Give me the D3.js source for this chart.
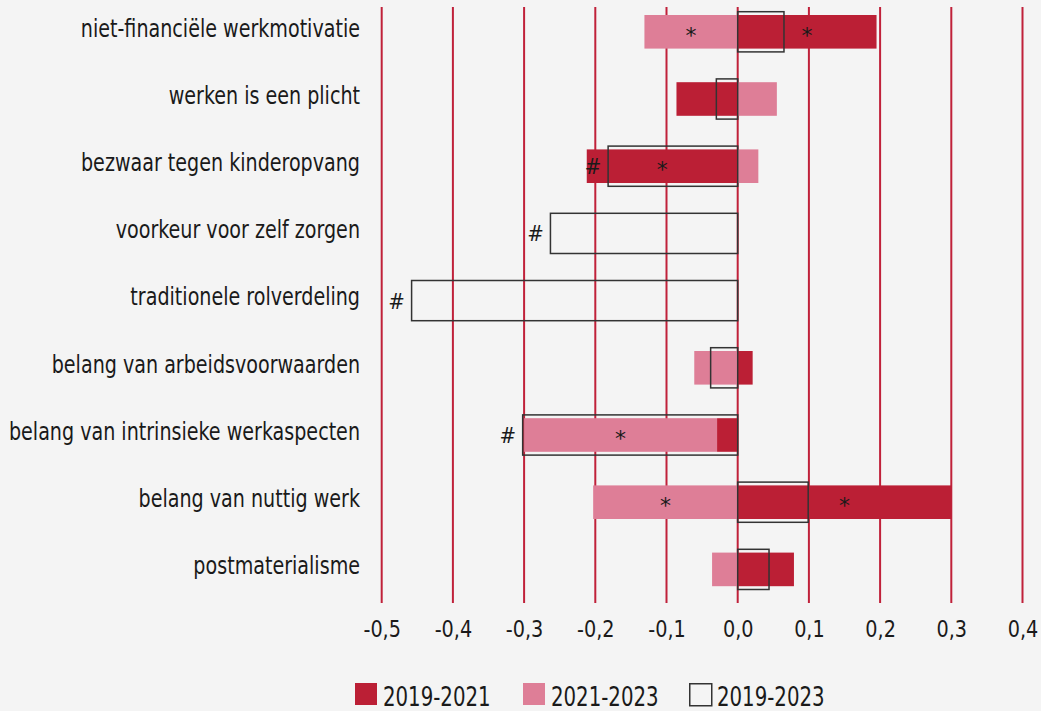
<!DOCTYPE html>
<html>
<head>
<meta charset="utf-8">
<script src="https://cdn.jsdelivr.net/npm/d3@7"></script>
<style>
  html, body { margin: 0; padding: 0; background: #f4f4f4; }
  svg { display: block; }
  text { font-family: "DejaVu Sans Condensed", "Open Sans", sans-serif; fill: #1a1a1a; }
</style>
</head>
<body>
<svg id="chart" width="1041" height="711"></svg>
<script>
const categories = [
  "niet-financiële werkmotivatie",
  "werken is een plicht",
  "bezwaar tegen kinderopvang",
  "voorkeur voor zelf zorgen",
  "traditionele rolverdeling",
  "belang van arbeidsvoorwaarden",
  "belang van intrinsieke werkaspecten",
  "belang van nuttig werk",
  "postmaterialisme"
];
const series = ["2019-2021", "2021-2023", "2019-2023"];
const values2019_2021 = [0.195, -0.086, -0.212, 0, 0, 0.021, -0.029, 0.300, 0.079];
const values2021_2023 = [-0.131, 0.055, 0.029, 0, 0, -0.061, -0.271, -0.203, -0.036];
const values2019_2023 = [0.065, -0.030, -0.182, -0.263, -0.458, -0.038, -0.302, 0.099, 0.044];
const sig2019_2021 = [true, false, true, false, false, false, false, true, false];
const sig2021_2023 = [true, false, false, false, false, false, true, true, false];
const sig2019_2023 = [false, false, true, true, true, false, true, false, false];
const tickValues = [-0.5, -0.4, -0.3, -0.2, -0.1, 0, 0.1, 0.2, 0.3, 0.4];

const colors = { "2019-2021": "#bb1f35", "2021-2023": "#de7e97", grid: "#c0213a", outline: "#333333" };

const svg = d3.select("#chart");
const x = d3.scaleLinear().domain([-0.5, 0.4]).range([381.7, 1022.5]);
const y = d3.scaleBand().domain(categories).range([-1.8, 603]).paddingInner(0.5).paddingOuter(0.25);

// gridlines
svg.append("g").selectAll("line").data(tickValues).join("line")
  .attr("x1", d => x(d)).attr("x2", d => x(d))
  .attr("y1", 7).attr("y2", 603)
  .attr("stroke", colors.grid).attr("stroke-width", 2);

// stacked bars (diverging)
const rows = categories.map((c, i) => ({ cat: c, "2019-2021": values2019_2021[i], "2021-2023": values2021_2023[i], i }));
const stack = d3.stack().keys(["2019-2021", "2021-2023"]).offset(d3.stackOffsetDiverging);
const stacked = stack(rows);
const sigMap = { "2019-2021": sig2019_2021, "2021-2023": sig2021_2023 };

const layers = svg.append("g").selectAll("g").data(stacked).join("g")
  .attr("fill", s => colors[s.key]);
layers.selectAll("rect").data(s => s.map(d => ({ d, key: s.key }))).join("rect")
  .attr("x", o => x(Math.min(o.d[0], o.d[1])))
  .attr("width", o => Math.abs(x(o.d[1]) - x(o.d[0])))
  .attr("y", o => y(o.d.data.cat))
  .attr("height", y.bandwidth());

// stars
const fsStar = 22;
stacked.forEach(s => {
  svg.append("g").selectAll("text").data(s.filter(d => sigMap[s.key][d.data.i])).join("text")
    .attr("x", d => x((d[0] + d[1]) / 2))
    .attr("y", d => y(d.data.cat) + y.bandwidth() / 2 + fsStar * 0.5)
    .attr("text-anchor", "middle")
    .style("font-family", "'DejaVu Sans', sans-serif")
    .style("font-size", fsStar + "px")
    .text("*");
});

// outline boxes 2019-2023
const outlineRows = categories.map((c, i) => ({ cat: c, v: values2019_2023[i], sig: sig2019_2023[i] }));
svg.append("g").selectAll("rect").data(outlineRows).join("rect")
  .attr("x", d => x(Math.min(0, d.v)))
  .attr("width", d => Math.abs(x(d.v) - x(0)))
  .attr("y", d => y(d.cat) - 3.3)
  .attr("height", y.bandwidth() + 6.6)
  .attr("fill", "none")
  .attr("stroke", colors.outline)
  .attr("stroke-width", 1.5);

svg.append("g").selectAll("text").data(outlineRows.filter(d => d.sig)).join("text")
  .attr("x", d => x(Math.min(0, d.v)) - 15)
  .attr("y", d => y(d.cat) + y.bandwidth() / 2 + 8)
  .attr("text-anchor", "middle")
  .style("font-size", "22px")
  .text("#");

// category labels (condensed horizontally to mimic the narrow original font)
const yAxis = d3.axisLeft(y).tickSize(0).tickPadding(0);
const ya = svg.append("g").attr("transform", "translate(360,0)").call(yAxis);
ya.select(".domain").remove();
ya.selectAll("text").style("font-size", "24px").attr("dy", "0.2em")
  .attr("transform", "scale(0.885,1)")
  .attr("font-family", null);

// x axis tick labels
const xAxis = d3.axisBottom(x).tickValues(tickValues).tickSize(0).tickPadding(0)
  .tickFormat(d => d3.format(".1f")(d).replace(".", ",").replace("−", "-"));
const xa = svg.append("g").attr("transform", "translate(0,637)").call(xAxis);
xa.select(".domain").remove();
xa.selectAll("text").attr("dy", 0).style("font-size", "23px").attr("font-family", null)
  .attr("transform", "scale(0.93,1)");

// legend
const legendItems = [
  { label: "2019-2021", x: 355, fill: colors["2019-2021"], stroke: "none" },
  { label: "2021-2023", x: 523, fill: colors["2021-2023"], stroke: "none" },
  { label: "2019-2023", x: 689, fill: "none", stroke: colors.outline }
];
const lg = svg.append("g").selectAll("g").data(legendItems).join("g")
  .attr("transform", d => `translate(${d.x},683)`);
lg.append("rect").attr("width", 22).attr("height", 22)
  .attr("x", d => d.stroke === "none" ? 0 : 0.75).attr("y", d => d.stroke === "none" ? 0 : 0.75)
  .attr("fill", d => d.fill).attr("stroke", d => d.stroke).attr("stroke-width", 1.5);
lg.append("text").attr("transform", "translate(28,22.7) scale(0.845,1)").style("font-size", "26px").text(d => d.label);
</script>
</body>
</html>
